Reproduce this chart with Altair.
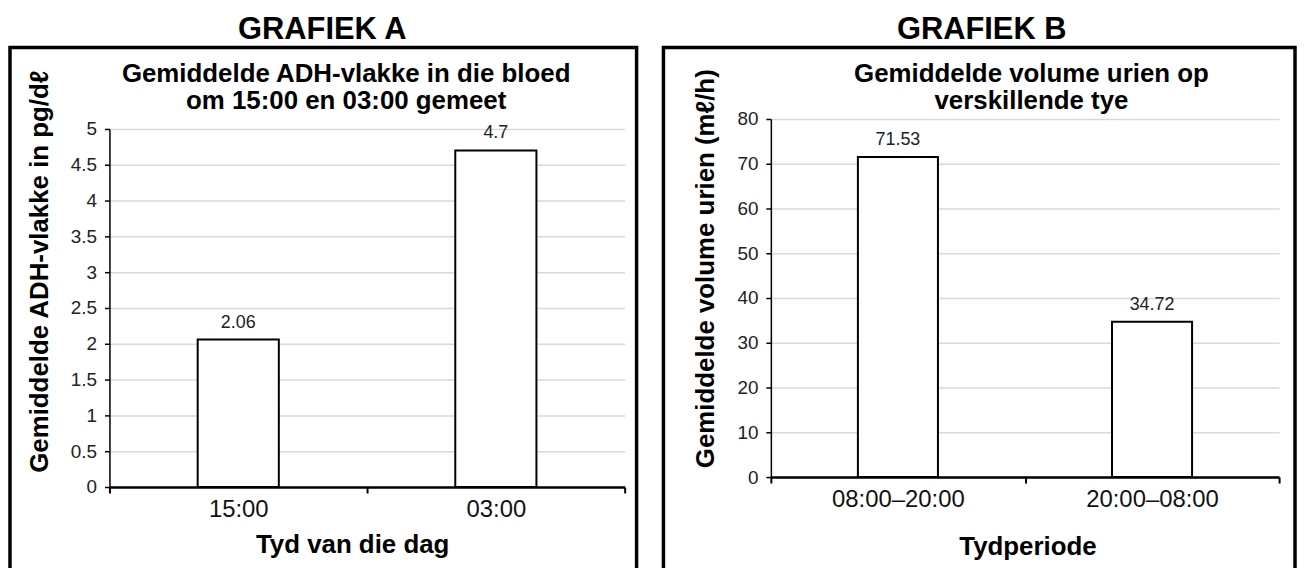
import altair as alt
import pandas as pd

# ---- data ----
a_times = ["15:00", "03:00"]
a_values = [2.06, 4.7]
a_ticks = [0, 0.5, 1, 1.5, 2, 2.5, 3, 3.5, 4, 4.5, 5]

b_periods = ["08:00\u201320:00", "20:00\u201308:00"]
b_values = [71.53, 34.72]
b_ticks = [0, 10, 20, 30, 40, 50, 60, 70, 80]

a_heading = "GRAFIEK A"
a_title = ["Gemiddelde ADH-vlakke in die bloed", "om 15:00 en 03:00 gemeet"]
a_ytitle = "Gemiddelde ADH-vlakke in pg/d\u2113"
a_xtitle = "Tyd van die dag"

b_heading = "GRAFIEK B"
b_title = ["Gemiddelde volume urien op", "verskillende tye"]
b_ytitle = "Gemiddelde volume urien (m\u2113/h)"
b_xtitle = "Tydperiode"

FONT = "Liberation Sans"


def panel(cats, vals, ticks, ymax, w, h, yrange, heading, hx, title_lines, tx,
          ytitle, ytx, yty, xtitle, xtx, xty, box):
    df = pd.DataFrame({"cat": cats, "val": vals, "lab": [str(v) for v in vals]})
    one = pd.DataFrame({"k": [0]})

    x = alt.X(
        "cat:N", sort=cats,
        scale=alt.Scale(paddingInner=0, paddingOuter=0),
        axis=alt.Axis(
            title=xtitle, titleFontSize=26, titleFontWeight="bold", titleColor="black",
            titleX=xtx, titleY=xty, titleBaseline="alphabetic", titleAlign="center",
            labelFontSize=24, labelColor="#111", labelAngle=0, labelPadding=5,
            tickBand="extent", tickSize=6, tickWidth=2, tickColor="black",
            domainColor="black", domainWidth=2.5, grid=False,
        ),
    )
    y = alt.Y(
        "val:Q",
        scale=alt.Scale(domain=[0, ymax], range=yrange, nice=False),
        axis=alt.Axis(
            values=ticks, labelExpr="'' + datum.value",
            title=ytitle, titleFontSize=26, titleFontWeight="bold", titleColor="black",
            titleX=ytx, titleY=yty, titleAngle=270, titleBaseline="middle", titleAlign="center",
            labelFontSize=19, labelColor="#222", labelPadding=8,
            tickSize=5, tickWidth=1.5, tickColor="black",
            domainColor="black", domainWidth=1.5,
            grid=True, gridColor="#d9d9d9", gridWidth=1.5,
        ),
    )

    frame = alt.Chart(one).mark_rect(
        fill="white", fillOpacity=0, stroke="black", strokeWidth=3.5
    ).encode(x=alt.value(box[0]), x2=alt.value(box[1]), y=alt.value(box[2]), y2=alt.value(box[3]))

    bars = alt.Chart(df).mark_bar(
        fill="white", stroke="black", strokeWidth=2, width=alt.RelativeBandSize(0.315)
    ).encode(x=x, y=y)

    labels = alt.Chart(df).mark_text(
        fontSize=18, color="#222", baseline="alphabetic", dy=-12
    ).encode(x=x, y=y, text="lab:N")

    head = alt.Chart(one).mark_text(
        fontSize=31, fontWeight="bold", color="black", baseline="alphabetic", align="center"
    ).encode(x=alt.value(hx), y=alt.value(-80), text=alt.value(heading))

    t1 = alt.Chart(one).mark_text(
        fontSize=26, fontWeight="bold", color="black", baseline="alphabetic", align="center"
    ).encode(x=alt.value(tx), y=alt.value(-37), text=alt.value(title_lines[0]))

    t2 = alt.Chart(one).mark_text(
        fontSize=26, fontWeight="bold", color="black", baseline="alphabetic", align="center"
    ).encode(x=alt.value(tx), y=alt.value(-10), text=alt.value(title_lines[1]))

    return alt.layer(frame, bars, labels, head, t1, t2).properties(width=w, height=h)


pa = panel(a_times, a_values, a_ticks, 5, 518, 370, [370, 10], a_heading, 214, a_title, 238,
           a_ytitle, -70, 153, a_xtitle, 244, 66, [-100, 530, -72, 470])
pb = panel(b_periods, b_values, b_ticks, 80, 511, 360, [360, 0], b_heading, 212, b_title, 262,
           b_ytitle, -66, 150, b_xtitle, 258, 78, [-108, 527, -72, 480])

chart = (
    alt.hconcat(pa, pb, spacing=23)
    .properties(padding={"left": 0, "top": 5, "right": 0, "bottom": 0})
    .configure(font=FONT)
    .configure_view(strokeWidth=0)
)

chart.save("out.html", embed_options={"renderer": "svg", "actions": False})
